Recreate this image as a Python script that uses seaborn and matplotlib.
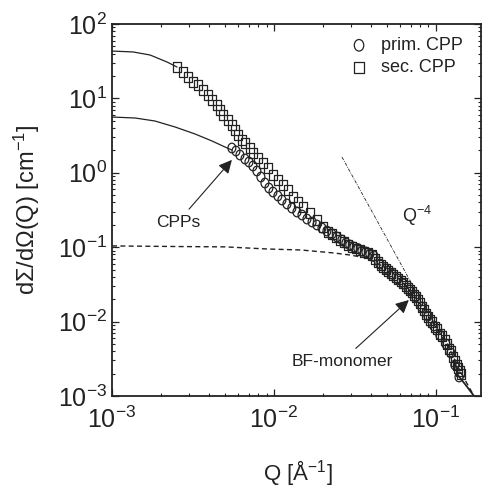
import numpy as np
import matplotlib
matplotlib.use("Agg")
import matplotlib.pyplot as plt
from matplotlib.path import Path
from matplotlib.transforms import Affine2D
import seaborn as sns

sns.set_theme(style="ticks")
plt.rcParams["font.family"] = ["Liberation Sans", "DejaVu Sans"]
plt.rcParams["mathtext.fontset"] = "custom"
plt.rcParams["mathtext.rm"] = "Liberation Sans"
plt.rcParams["mathtext.it"] = "Liberation Sans:italic"
plt.rcParams["mathtext.default"] = "regular"

INK = "#222222"

# sec. CPP (squares)
q_sec = [2.52e-3, 2.744e-3, 2.944e-3, 3.162e-3, 3.396e-3, 3.645e-3, 3.914e-3, 4.143e-3, 4.446e-3, 4.642e-3,
         4.844e-3, 5.20e-3, 5.50e-3, 5.745e-3, 5.99e-3, 6.345e-3, 6.62e-3, 7.11e-3, 7.42e-3, 7.965e-3,
         8.55e-3, 9.18e-3, 9.86e-3, 1.058e-2, 1.137e-2, 1.22e-2, 1.31e-2, 1.406e-2, 1.51e-2, 1.668e-2,
         1.842e-2, 2.007e-2, 2.154e-2, 2.28e-2, 2.414e-2, 2.555e-2, 2.704e-2, 2.862e-2, 3.031e-2, 3.208e-2,
         3.396e-2, 3.594e-2, 3.804e-2, 4.026e-2, 4.202e-2, 4.385e-2, 4.575e-2, 4.708e-2, 4.912e-2, 5.054e-2,
         5.276e-2, 5.427e-2, 5.66e-2, 5.827e-2, 6.081e-2, 6.256e-2, 6.53e-2, 6.718e-2, 6.91e-2, 7.11e-2,
         7.31e-2, 7.524e-2, 7.74e-2, 7.963e-2, 8.19e-2, 8.432e-2, 8.68e-2, 8.925e-2, 9.18e-2, 9.447e-2,
         9.86e-2, 0.1014, 0.1058, 0.1089, 0.1137, 0.1169, 0.1203, 0.1238, 0.1273, 0.131,
         0.1348, 0.1367, 0.1406, 0.1427]
i_sec = [26.4, 22.6, 19.39, 16.61, 15.14, 12.97, 11.11, 9.52, 8.15, 6.98,
         5.98, 5.13, 4.39, 3.76, 3.22, 2.76, 2.515, 2.154, 1.846, 1.58,
         1.354, 1.16, 0.934, 0.800, 0.686, 0.587, 0.473, 0.405, 0.347, 0.288,
         0.232, 0.187, 0.160, 0.1505, 0.1371, 0.125, 0.1174, 0.107, 0.1006, 0.0959,
         0.0917, 0.0862, 0.0836, 0.0785, 0.0694, 0.0632, 0.0577, 0.0542, 0.0509, 0.0479,
         0.0450, 0.0423, 0.0398, 0.0374, 0.0351, 0.0330, 0.0301, 0.0283, 0.0266, 0.0250,
         0.0228, 0.0214, 0.0195, 0.0178, 0.0157, 0.0143, 0.01265, 0.01153, 0.01051, 0.00988,
         0.00846, 0.00795, 0.00681, 0.00640, 0.00566, 0.00500, 0.00428, 0.00402, 0.00334, 0.00295,
         0.00261, 0.00238, 0.00217, 0.00198]

# prim. CPP (circles)
q_prim = [5.50e-3, 5.83e-3, 6.167e-3, 6.62e-3, 7.01e-3, 7.42e-3, 7.85e-3, 8.31e-3, 8.80e-3, 9.31e-3,
          9.86e-3, 1.058e-2, 1.12e-2, 1.203e-2, 1.29e-2, 1.387e-2, 1.49e-2, 1.599e-2, 1.72e-2, 1.842e-2,
          1.98e-2, 2.124e-2, 2.28e-2, 2.449e-2, 2.63e-2, 2.783e-2, 2.94e-2, 3.118e-2, 3.30e-2, 3.494e-2,
          3.70e-2, 3.914e-2, 4.143e-2, 4.51e-2, 4.912e-2, 5.351e-2, 5.827e-2, 6.34e-2, 6.91e-2, 7.524e-2,
          8.19e-2, 8.93e-2, 9.72e-2, 0.1058, 0.1153, 0.1238, 0.131, 0.139]
i_prim = [2.154, 1.963, 1.735, 1.533, 1.397, 1.234, 1.057, 0.878, 0.729, 0.625,
          0.552, 0.488, 0.431, 0.381, 0.336, 0.297, 0.271, 0.239, 0.218, 0.199,
          0.181, 0.165, 0.1505, 0.1371, 0.125, 0.1139, 0.107, 0.1006, 0.0959, 0.0889,
          0.0862, 0.0810, 0.0762, 0.0594, 0.0509, 0.0436, 0.0374, 0.0320, 0.0266, 0.0214,
          0.0157, 0.0119, 0.00873, 0.00660, 0.00500, 0.00378, 0.00261, 0.00180]

# fitted curves (visible parts)
q_fit_sec = [1.0e-3, 1.35e-3, 1.72e-3, 2.19e-3, 2.52e-3]
i_fit_sec = [43.3, 42.1, 38.3, 30.8, 26.4]
q_fit_prim = [1.0e-3, 1.39e-3, 1.84e-3, 2.45e-3, 3.25e-3, 4.14e-3, 4.99e-3, 5.51e-3]
i_fit_prim = [5.62, 5.45, 4.97, 4.13, 3.33, 2.68, 2.22, 2.02]
q_fit_tail = [0.131, 0.1367, 0.155, 0.172]
i_fit_tail = [0.00295, 0.00191, 0.00135, 0.001]

# BF-monomer form factor (dashed)
q_bf = [1.0e-3, 2.63e-3, 5.0e-3, 9.06e-3, 1.47e-2, 2.35e-2, 2.94e-2, 3.75e-2, 5.20e-2, 6.62e-2,
        7.96e-2, 9.57e-2, 0.117, 0.141, 0.172]
i_bf = [0.104, 0.102, 0.101, 0.0946, 0.0917, 0.0836, 0.0786, 0.0716, 0.0494, 0.0292,
        0.0178, 0.00958, 0.00516, 0.00217, 0.001]

# Q^-4 guide line
q_porod = [0.0263, 0.0711]
i_porod = [1.63, 0.032]

# slightly tall open markers, as in the original figure
tall_circle = Path.unit_circle().transformed(Affine2D().scale(0.82, 1.0))
tall_square = Path([(-0.41, -0.5), (0.41, -0.5), (0.41, 0.5), (-0.41, 0.5), (-0.41, -0.5)],
                   [Path.MOVETO, Path.LINETO, Path.LINETO, Path.LINETO, Path.CLOSEPOLY])

fig = plt.figure(figsize=(4.84, 4.87), dpi=100)
ax = fig.add_axes([0.2314, 0.1869, 0.7624, 0.7638])

sns.lineplot(x=q_fit_sec, y=i_fit_sec, ax=ax, color=INK, lw=0.9, estimator=None)
sns.lineplot(x=q_fit_prim, y=i_fit_prim, ax=ax, color=INK, lw=0.9, estimator=None)
sns.lineplot(x=q_fit_tail, y=i_fit_tail, ax=ax, color=INK, lw=1.3, estimator=None)
ax.plot(q_bf, i_bf, color=INK, lw=1.0, dashes=(3.6, 2.4))
ax.plot(q_porod, i_porod, color=INK, lw=0.6, dashes=(4, 1.5, 1, 1.5))

sns.scatterplot(x=q_sec, y=i_sec, ax=ax, marker=tall_square, s=48, facecolors="none",
                edgecolor=INK, linewidth=0.9, label="sec. CPP", zorder=3)
sns.scatterplot(x=q_prim, y=i_prim, ax=ax, marker=tall_circle, s=48, facecolors="none",
                edgecolor=INK, linewidth=0.9, label="prim. CPP", zorder=3)

ax.set_xscale("log")
ax.set_yscale("log")
ax.set_xlim(1e-3, 0.19)
ax.set_ylim(1e-3, 1e2)

ax.tick_params(which="both", direction="in", top=True, right=True, colors=INK)
ax.tick_params(which="major", length=5, width=0.9, labelsize=18)
ax.tick_params(which="minor", length=2.5, width=0.8)
ax.tick_params(axis="x", which="major", pad=8)
for sp in ax.spines.values():
    sp.set_linewidth(1.3)
    sp.set_color(INK)

ax.set_xlabel("Q [Å$^{-1}$]", fontsize=16, color=INK)
ax.set_ylabel("dΣ/dΩ(Q) [cm$^{-1}$]", fontsize=17, color=INK)
ax.xaxis.set_label_coords(0.504, -0.168)
ax.yaxis.set_label_coords(-0.19, 0.5)

handles, labels = ax.get_legend_handles_labels()
order = [labels.index("prim. CPP"), labels.index("sec. CPP")]
ax.legend([handles[k] for k in order], [labels[k] for k in order],
          loc="upper left", bbox_to_anchor=(0.645, 0.965), frameon=False,
          fontsize=13, handlelength=1.0, handletextpad=0.72, labelspacing=0.3,
          borderpad=0, borderaxespad=0, labelcolor=INK, markerscale=1.2)

ax.text(0.0617, 0.262, "Q$^{-4}$", fontsize=13, color=INK, ha="left", va="center")
arrow = dict(arrowstyle="-|>", mutation_scale=20, lw=0.8, color=INK, shrinkA=2, shrinkB=0)
ax.annotate("CPPs", xy=(5.5e-3, 1.49), xytext=(2.55e-3, 0.218), fontsize=12.5,
            color=INK, ha="center", va="center", arrowprops=arrow)
ax.annotate("BF-monomer", xy=(0.0681, 0.0195), xytext=(0.0263, 2.95e-3), fontsize=12.5,
            color=INK, ha="center", va="center", arrowprops=arrow)

fig.savefig("out.png", dpi=100)
